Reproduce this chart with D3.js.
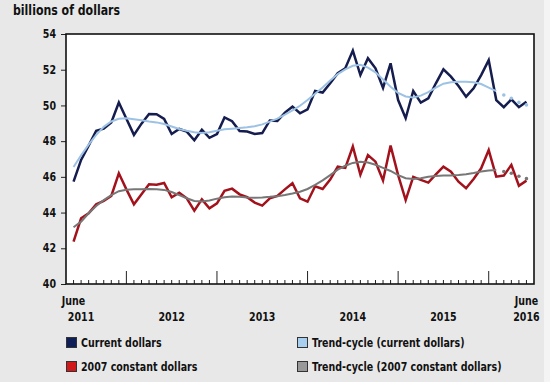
<!DOCTYPE html>
<html><head><meta charset="utf-8">
<script src="https://cdn.jsdelivr.net/npm/d3@7"></script>
<style>
body{margin:0;background:#e8e8e8;}
svg{display:block;}
text{font-family:"DejaVu Sans",Verdana,sans-serif;font-weight:bold;fill:#111;}
</style>
</head><body><svg id="c" width="550" height="382"></svg>
<script>
const months = [
 "2011-06","2011-07","2011-08","2011-09","2011-10","2011-11","2011-12",
 "2012-01","2012-02","2012-03","2012-04","2012-05","2012-06","2012-07","2012-08","2012-09","2012-10","2012-11","2012-12",
 "2013-01","2013-02","2013-03","2013-04","2013-05","2013-06","2013-07","2013-08","2013-09","2013-10","2013-11","2013-12",
 "2014-01","2014-02","2014-03","2014-04","2014-05","2014-06","2014-07","2014-08","2014-09","2014-10","2014-11","2014-12",
 "2015-01","2015-02","2015-03","2015-04","2015-05","2015-06","2015-07","2015-08","2015-09","2015-10","2015-11","2015-12",
 "2016-01","2016-02","2016-03","2016-04","2016-05","2016-06"];

const currentDollars = [45.73,46.95,47.75,48.58,48.7,49.05,50.16,49.25,48.35,48.98,49.52,49.51,49.25,48.4,48.68,48.53,48.05,48.64,48.19,48.4,49.33,49.12,48.57,48.54,48.4,48.45,49.16,49.13,49.6,49.93,49.56,49.78,50.81,50.72,51.24,51.8,52.08,53.07,51.7,52.64,52.08,50.98,52.36,50.3,49.28,50.81,50.16,50.4,51.24,52.02,51.61,51.09,50.49,50.96,51.7,52.54,50.3,49.9,50.34,49.9,50.21];

const trendCurrent = [46.55,47.2,47.8,48.35,48.8,49.1,49.25,49.28,49.23,49.17,49.1,49.05,48.96,48.82,48.68,48.58,48.5,48.46,48.5,48.58,48.66,48.7,48.74,48.78,48.83,48.94,49.09,49.26,49.48,49.72,49.98,50.3,50.65,51.0,51.4,51.75,52.02,52.22,52.28,52.12,51.85,51.45,51.05,50.7,50.5,50.45,50.55,50.75,51.0,51.22,51.3,51.32,51.32,51.3,51.2,51.0,50.8,50.58,50.4,50.17,50.03];

const constantDollars = [42.37,43.68,43.96,44.46,44.65,44.93,46.2,45.3,44.46,45.02,45.58,45.56,45.66,44.86,45.11,44.8,44.11,44.74,44.24,44.52,45.22,45.34,45.02,44.86,44.56,44.39,44.8,44.93,45.3,45.64,44.8,44.61,45.47,45.32,45.85,46.57,46.5,47.7,46.12,47.22,46.85,45.8,47.75,46.1,44.7,46.0,45.83,45.68,46.14,46.57,46.29,45.73,45.36,45.88,46.48,47.5,46.01,46.07,46.67,45.5,45.79];

const trendConstant = [43.18,43.49,43.96,44.37,44.7,44.98,45.2,45.28,45.3,45.3,45.32,45.3,45.27,45.15,44.98,44.8,44.65,44.62,44.68,44.78,44.86,44.9,44.88,44.85,44.83,44.85,44.88,44.92,44.98,45.07,45.17,45.32,45.55,45.8,46.1,46.4,46.62,46.78,46.85,46.8,46.68,46.5,46.33,46.1,45.92,45.88,45.92,46.0,46.05,46.07,46.08,46.1,46.15,46.22,46.3,46.36,46.38,46.3,46.2,46.03,45.9];

const yTicks = [40,42,44,46,48,50,52,54];
const majorTickMonths = ["2012-01","2013-01","2014-01","2015-01","2016-01"];
const yearLabels = ["2012","2013","2014","2015"];
const yearLabelMonths = ["2012-07","2013-07","2014-07","2015-07"];

const svg = d3.select("#c");
svg.append("rect").attr("x",544).attr("y",0).attr("width",6).attr("height",382).attr("fill","#f4f4f4");

const L=66,R=534,T=34,B=284;
const x = d3.scalePoint().domain(months).range([L,R]).padding(1);
const y = d3.scaleLinear().domain([40,54]).range([B,T]);

svg.append("rect").attr("x",L).attr("y",T).attr("width",R-L).attr("height",B-T).attr("fill","#fff");

svg.append("text").attr("x",13).attr("y",15).attr("font-size","11px").text("billions of dollars");

// y axis
const yAxis = svg.append("g").attr("transform",`translate(${L},0)`)
  .call(d3.axisLeft(y).tickValues(yTicks).tickSize(5).tickPadding(5).tickFormat(d3.format("d")));
yAxis.select(".domain").remove();
yAxis.selectAll("line").attr("stroke","#222");
yAxis.selectAll("text").attr("font-size","9.5px").attr("fill","#111").attr("font-family",null)
  .style("font-family",'"DejaVu Sans",Verdana,sans-serif').style("font-weight","bold");

// x ticks (inward)
const xg = svg.append("g");
xg.selectAll("line").data(months).join("line")
  .attr("x1",d=>x(d)).attr("x2",d=>x(d))
  .attr("y1",B).attr("y2",d=>majorTickMonths.includes(d)?B-13:B-4)
  .attr("stroke","#222").attr("stroke-width",1);

// x labels
const lab = svg.append("g").attr("font-size","9.5px").attr("text-anchor","middle");
lab.selectAll("text.yr").data(yearLabels).join("text")
  .attr("x",(d,i)=>x(yearLabelMonths[i])).attr("y",321).text(d=>d);
lab.append("text").attr("x",x(months[0])).attr("y",305).text("June");
lab.append("text").attr("x",x(months[1])).attr("y",321).text("2011");
lab.append("text").attr("x",x(months[60])).attr("y",305).text("June");
lab.append("text").attr("x",x(months[60])).attr("y",321).text("2016");

const solidEnd = months.indexOf("2016-02");
const series = [
  {name:"Current dollars", values:currentDollars, color:"#151c4e", w:2.5, trend:false},
  {name:"2007 constant dollars", values:constantDollars, color:"#a3121c", w:2.5, trend:false},
  {name:"Trend-cycle (current dollars)", values:trendCurrent, color:"#9dc2e4", w:2, trend:true},
  {name:"Trend-cycle (2007 constant dollars)", values:trendConstant, color:"#777", w:2, trend:true}
];
const plot = svg.append("g");
series.forEach(s=>{
  const line = d3.line().x((d,i)=>x(months[i])).y(d=>y(d))
    .defined((d,i)=>!s.trend || i<=solidEnd);
  plot.append("path").datum(s.values).attr("d",line).attr("fill","none")
    .attr("stroke",s.color).attr("stroke-width",s.w).attr("stroke-linejoin","miter");
  if(s.trend){
    plot.selectAll(null).data(s.values.map((v,i)=>({v,i})).filter(d=>d.i>solidEnd)).join("circle")
      .attr("cx",d=>x(months[d.i])).attr("cy",d=>y(d.v)).attr("r",1.8).attr("fill",s.color);
  }
});

// frame
svg.append("rect").attr("x",L).attr("y",T).attr("width",R-L).attr("height",B-T)
  .attr("fill","none").attr("stroke","#111").attr("stroke-width",1.6);

// legend
const legend = [
  {name:"Current dollars", color:"#0e1f57", x:66, y:337},
  {name:"Trend-cycle (current dollars)", color:"#a8cff0", x:297, y:337},
  {name:"2007 constant dollars", color:"#d01a1a", x:66, y:361},
  {name:"Trend-cycle (2007 constant dollars)", color:"#999", x:297, y:361}
];
const lg = svg.append("g");
legend.forEach(d=>{
  lg.append("rect").attr("x",d.x+0.5).attr("y",d.y+0.5).attr("width",10).attr("height",10)
    .attr("fill",d.color).attr("stroke","#333").attr("stroke-width",1);
  lg.append("text").attr("x",d.x+15).attr("y",d.y+10).attr("font-size","9.5px").text(d.name);
});

// reference text is drawn taller than wide: stretch vertically about each baseline
svg.selectAll("text").each(function(){
  const t = d3.select(this);
  const tx = +t.attr("x")||0, ty = +t.attr("y")||0;
  t.attr("transform",`translate(${tx},${ty}) scale(1,1.2) translate(${-tx},${-ty})`);
});
</script>
</body></html>
